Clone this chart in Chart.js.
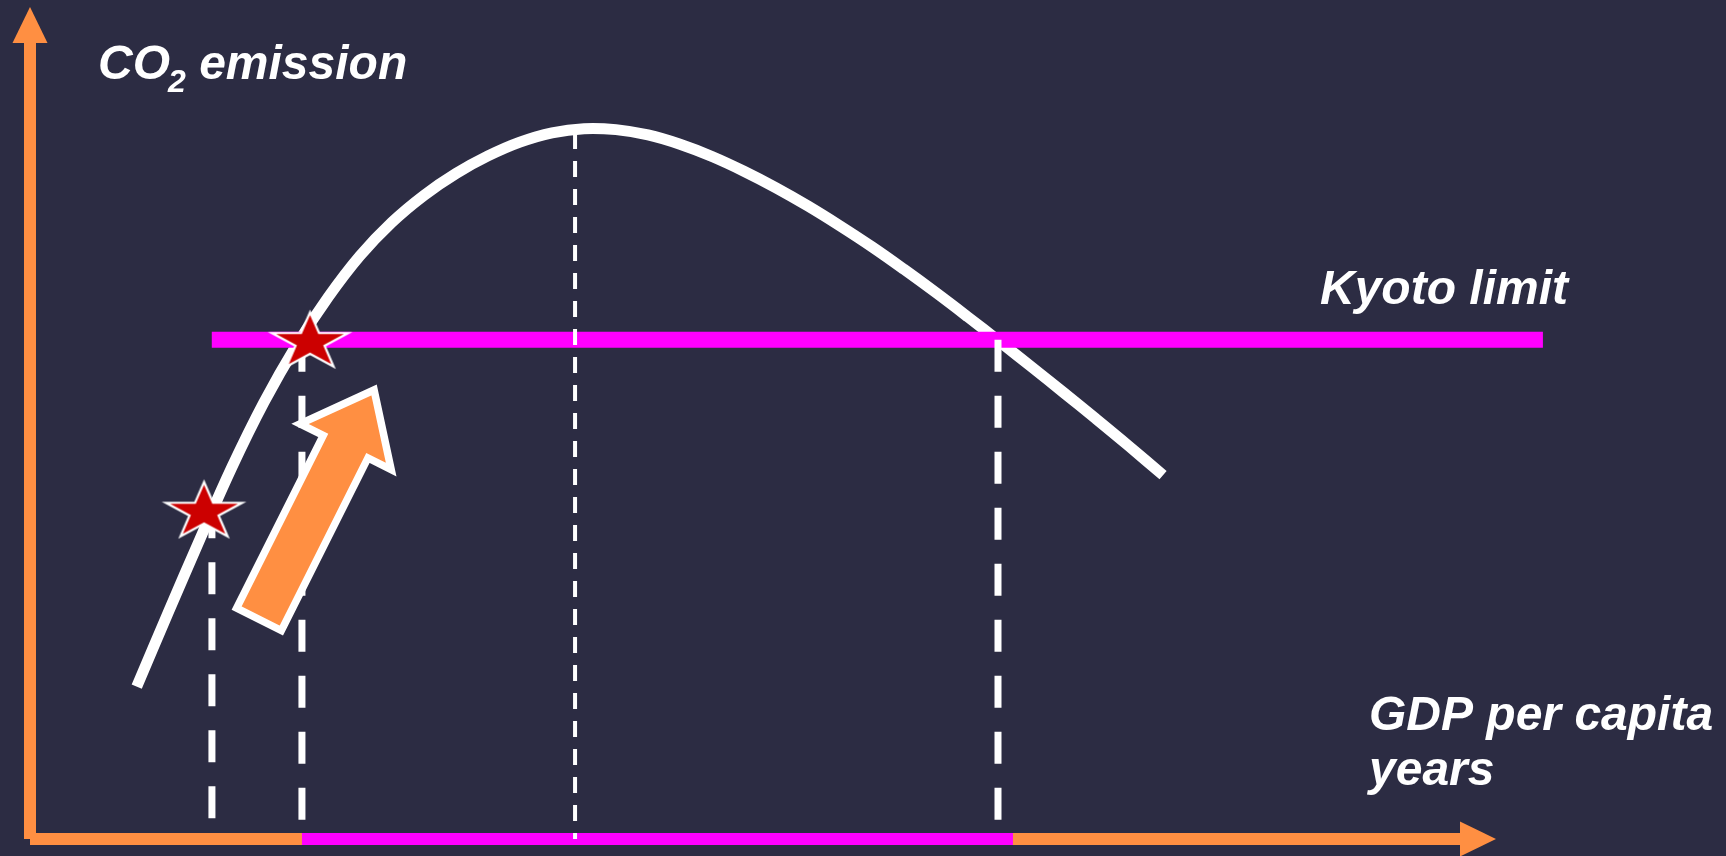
<!DOCTYPE html>
<html>
<head>
<meta charset="utf-8">
<script src="https://cdn.jsdelivr.net/npm/chart.js@4/dist/chart.umd.min.js"></script>
<style>
html,body{margin:0;padding:0;background:#2C2C43;overflow:hidden}
#c{display:block}
</style>
</head>
<body>
<canvas id="c" width="1726" height="856"></canvas>
<script>
// ---------- DATA (arbitrary units: GDP per capita / years on x, CO2 emission on y) ----------
const curveX = [7.28, 9.41, 11.60, 13.78, 15.96, 18.14, 20.33, 22.51, 24.69, 26.88, 29.06, 31.24, 33.42, 35.61, 37.79, 39.97, 42.16, 44.34, 46.52, 48.70, 50.89, 53.07, 55.25, 57.44, 59.62, 61.80, 63.98, 66.17, 68.35, 70.53, 72.71, 74.90, 77.29];
const curveY = [18.31, 27.15, 36.07, 44.72, 52.49, 59.25, 65.10, 70.10, 74.13, 77.37, 79.99, 82.10, 83.76, 84.88, 85.38, 85.26, 84.62, 83.50, 82.03, 80.26, 78.27, 76.08, 73.70, 71.17, 68.47, 65.66, 62.74, 59.74, 56.70, 53.62, 50.50, 47.31, 43.74];

const kyotoLimit = 60;
const kyotoStartX = 12.4;
const kyotoEndX = 103.2;

const starX = [11.87, 19.1];
const starY = [39.3, 59.7];

const guideX = [12.41, 18.55, 66.03];   // dashed vertical guides
const guideTop = [40, 60, 60];

const peakX = 37.18;                     // thin dotted line under the peak
const peakTop = 84.86;

const spanStartX = 18.55;                // magenta span on the x axis
const spanEndX = 67.05;

const growthFrom = [15.62, 26.4];        // big orange arrow (tail, tip)
const growthTo = [23.47, 53.97];

const axisEndX = 100;
const axisEndY = 100;

const labelTexts = ['CO', '2', ' emission', 'Kyoto limit', 'GDP per capita', 'years'];

// ---------- STYLE ----------
const BG = '#2C2C43';
const ORANGE = '#FF8F42';
const MAGENTA = '#FF00FF';
const WHITE = '#FFFFFF';
const STAR_RED = '#CC0000';
const FONT = '"Liberation Sans", Arial, sans-serif';

function makeStar(rx, ry, lw) {
  const c = document.createElement('canvas');
  const pad = lw + 2;
  c.width = Math.ceil(2 * rx + 2 * pad);
  c.height = Math.ceil(2 * ry + 2 * pad);
  const g = c.getContext('2d');
  const cx = c.width / 2, cy = c.height / 2;
  g.beginPath();
  for (let i = 0; i < 10; i++) {
    const a = -Math.PI / 2 + i * Math.PI / 5;
    const r = (i % 2 === 0) ? 1 : 0.382;
    const px = cx + r * rx * Math.cos(a);
    const py = cy + r * ry * Math.sin(a);
    if (i === 0) g.moveTo(px, py); else g.lineTo(px, py);
  }
  g.closePath();
  g.fillStyle = STAR_RED;
  g.fill();
  g.lineWidth = lw;
  g.strokeStyle = WHITE;
  g.lineJoin = 'miter';
  g.stroke();
  return c;
}
const starImg = makeStar(40, 30, 2.2);

const pts = (xs, ys) => xs.map((x, i) => ({x, y: ys[i]}));

const datasets = [];
datasets.push({
  label: 'stars', data: pts(starX, starY), showLine: false,
  pointStyle: starImg, pointRadius: 30, order: 0, clip: false
});
guideX.forEach((gx, i) => {
  datasets.push({
    label: 'guide' + i, data: [{x: gx, y: guideTop[i]}, {x: gx, y: 0}],
    borderColor: WHITE, borderWidth: 7, borderDash: [32, 24], borderCapStyle: 'butt',
    pointRadius: 0, order: 1, clip: false
  });
});
datasets.push({
  label: 'peak', data: [{x: peakX, y: peakTop}, {x: peakX, y: 0}],
  borderColor: WHITE, borderWidth: 4, borderDash: [16, 12], borderCapStyle: 'butt',
  pointRadius: 0, order: 1, clip: false
});
datasets.push({
  label: 'Kyoto limit', data: [{x: kyotoStartX, y: kyotoLimit}, {x: kyotoEndX, y: kyotoLimit}],
  borderColor: MAGENTA, borderWidth: 16, borderCapStyle: 'butt',
  pointRadius: 0, order: 2, clip: false
});
datasets.push({
  label: 'curve', data: pts(curveX, curveY),
  borderColor: WHITE, borderWidth: 11, borderCapStyle: 'butt', borderJoinStyle: 'round', tension: 0.4,
  pointRadius: 0, order: 3, clip: false
});
datasets.push({
  label: 'span', data: [{x: spanStartX, y: 0}, {x: spanEndX, y: 0}],
  borderColor: MAGENTA, borderWidth: 12, borderCapStyle: 'butt',
  pointRadius: 0, order: 4, clip: false
});

const bgPlugin = {
  id: 'bg',
  beforeDraw(chart) {
    const c = chart.ctx;
    c.save(); c.fillStyle = BG; c.fillRect(0, 0, chart.width, chart.height); c.restore();
  }
};

const axesPlugin = {
  id: 'axesArrows',
  beforeDatasetsDraw(chart) {
    const c = chart.ctx, xs = chart.scales.x, ys = chart.scales.y;
    const x0 = xs.getPixelForValue(0), y0 = ys.getPixelForValue(0);
    const xe = xs.getPixelForValue(axisEndX), ye = ys.getPixelForValue(axisEndY);
    const headL = 36, headW = 17.5, lw = 12;
    c.save();
    c.strokeStyle = ORANGE; c.fillStyle = ORANGE; c.lineWidth = lw; c.lineCap = 'butt';
    // y axis
    c.beginPath(); c.moveTo(x0, y0); c.lineTo(x0, ye + headL - 1); c.stroke();
    c.beginPath(); c.moveTo(x0, ye); c.lineTo(x0 - headW, ye + headL); c.lineTo(x0 + headW, ye + headL); c.closePath(); c.fill();
    // x axis
    c.beginPath(); c.moveTo(x0, y0); c.lineTo(xe - headL + 1, y0); c.stroke();
    c.beginPath(); c.moveTo(xe, y0); c.lineTo(xe - headL, y0 - headW); c.lineTo(xe - headL, y0 + headW); c.closePath(); c.fill();
    c.restore();
  }
};

const growthArrowPlugin = {
  id: 'growthArrow',
  beforeDatasetDraw(chart, args) {
    if (chart.data.datasets[args.index].label !== 'stars') return;
    const c = chart.ctx, xs = chart.scales.x, ys = chart.scales.y;
    const p0 = {x: xs.getPixelForValue(growthFrom[0]), y: ys.getPixelForValue(growthFrom[1])};
    const p1 = {x: xs.getPixelForValue(growthTo[0]), y: ys.getPixelForValue(growthTo[1])};
    const dx = p1.x - p0.x, dy = p1.y - p0.y, L = Math.hypot(dx, dy);
    const ux = dx / L, uy = dy / L, nx = -uy, ny = ux;
    const hw = 25, hh = 51, hl = 63.5;
    const bx = p1.x - ux * hl, by = p1.y - uy * hl;
    c.save();
    c.beginPath();
    c.moveTo(p0.x + nx * hw, p0.y + ny * hw);
    c.lineTo(bx + nx * hw, by + ny * hw);
    c.lineTo(bx + nx * hh, by + ny * hh);
    c.lineTo(p1.x, p1.y);
    c.lineTo(bx - nx * hh, by - ny * hh);
    c.lineTo(bx - nx * hw, by - ny * hw);
    c.lineTo(p0.x - nx * hw, p0.y - ny * hw);
    c.closePath();
    c.fillStyle = ORANGE; c.fill();
    c.lineWidth = 7.5; c.lineJoin = 'miter'; c.miterLimit = 10; c.strokeStyle = WHITE; c.stroke();
    c.restore();
  }
};

const textPlugin = {
  id: 'texts',
  afterDatasetsDraw(chart) {
    const c = chart.ctx, xs = chart.scales.x, ys = chart.scales.y;
    const ox = xs.getPixelForValue(0), oy = ys.getPixelForValue(0);
    c.save();
    c.fillStyle = WHITE; c.textAlign = 'left'; c.textBaseline = 'alphabetic';
    const big = 'italic bold 48px ' + FONT, small = 'italic bold 32px ' + FONT;
    // y-axis title with subscript
    let tx = ox + 68, ty = ys.getPixelForValue(axisEndY) + 72;
    c.font = big; c.fillText(labelTexts[0], tx, ty);
    tx += c.measureText(labelTexts[0]).width - 2;
    c.font = small; c.fillText(labelTexts[1], tx, ty + 13);
    tx += c.measureText(labelTexts[1]).width;
    c.font = big; c.fillText(labelTexts[2], tx, ty);
    // Kyoto label
    c.fillText(labelTexts[3], 1320, ys.getPixelForValue(kyotoLimit) - 36);
    // x-axis title
    c.fillText(labelTexts[4], 1369, oy - 109);
    c.fillText(labelTexts[5], 1369, oy - 54);
    c.restore();
  }
};

new Chart(document.getElementById('c'), {
  type: 'line',
  data: {datasets},
  options: {
    responsive: false,
    animation: false,
    events: [],
    layout: {autoPadding: false, padding: {left: 30, right: 83.4, top: 7, bottom: 17}},
    scales: {
      x: {type: 'linear', min: 0, max: 110, display: false},
      y: {type: 'linear', min: 0, max: 100, display: false}
    },
    plugins: {legend: {display: false}, tooltip: {enabled: false}, title: {display: false}}
  },
  plugins: [bgPlugin, axesPlugin, growthArrowPlugin, textPlugin]
});
</script>
</body>
</html>
